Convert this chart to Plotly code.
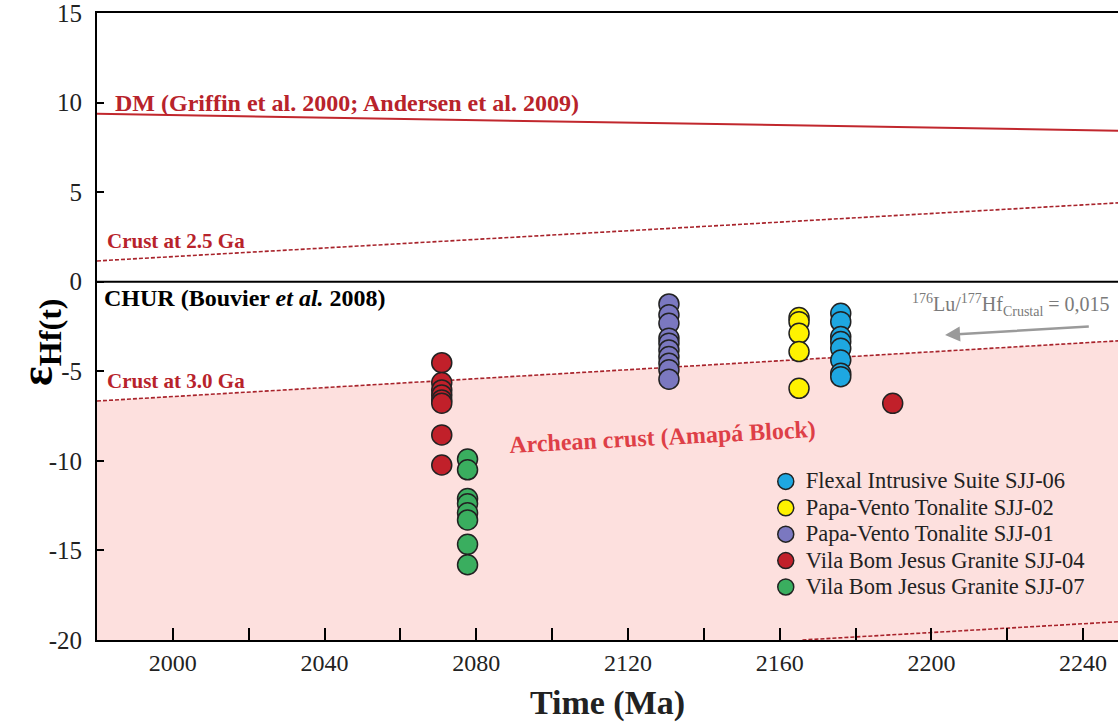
import plotly.graph_objects as go

# ---- data ----
x_range = [1980, 2249.2]

# Reference evolution lines (Time in Ma, epsilon Hf)
dm_x = [1980, 2249.2]
dm_y = [9.37, 8.43]
crust25_x = [1980, 2249.2]
crust25_y = [1.16, 4.40]
crust30_x = [1980, 2249.2]
crust30_y = [-6.66, -3.30]
crust35_x = [2166, 2249.2]
crust35_y = [-20.0, -18.98]
chur_x = [1980, 2249.2]
chur_y = [0, 0]

# Sample analyses
flexal_x = [2176.1] * 8
flexal_y = [-1.76, -2.23, -3.06, -3.34, -3.72, -4.37, -5.11, -5.30]
pv02_x = [2165.1] * 5
pv02_y = [-2.00, -2.23, -2.88, -3.90, -5.95]
pv01_x = [2130.8] * 10
pv01_y = [-1.24, -1.85, -2.32, -3.15, -3.43, -3.81, -4.18, -4.55, -4.92, -5.44]
vbj04_x = [2070.9] * 8 + [2189.8]
vbj04_y = [-4.52, -5.63, -6.04, -6.32, -6.60, -6.78, -8.55, -10.23, -6.79]
vbj07_x = [2077.7] * 8
vbj07_y = [-9.90, -10.50, -12.10, -12.40, -12.90, -13.30, -14.66, -15.80]

x_tickvals = [2000, 2020, 2040, 2060, 2080, 2100, 2120, 2140, 2160, 2180, 2200, 2220, 2240]
x_ticktext = ["2000", "", "2040", "", "2080", "", "2120", "", "2160", "", "2200", "", "2240"]
y_tickvals = [-20, -15, -10, -5, 0, 5, 10, 15]
y_ticktext = ["-20", "-15", "-10", "-5", "0", "5", "10", "15"]

SERIF = "Liberation Serif"
LINE_RED = "#b8232b"
DASH_RED = "#a8232b"

fig = go.Figure()

# Archean crust field: between y=-20 and the 3.0 Ga crust line
fig.add_trace(go.Scatter(x=crust30_x, y=[-20, -20], mode="lines",
                         line=dict(width=0), showlegend=False, hoverinfo="skip"))
fig.add_trace(go.Scatter(x=crust30_x, y=crust30_y, mode="lines", fill="tonexty",
                         fillcolor="#fde0de", line=dict(width=0),
                         showlegend=False, hoverinfo="skip"))

# Evolution lines
fig.add_trace(go.Scatter(x=dm_x, y=dm_y, mode="lines",
                         line=dict(color="#c1272d", width=2), showlegend=False))
for lx, ly in [(crust25_x, crust25_y), (crust30_x, crust30_y), (crust35_x, crust35_y)]:
    fig.add_trace(go.Scatter(x=lx, y=ly, mode="lines",
                             line=dict(color=DASH_RED, width=1.6, dash="4px,2px"),
                             showlegend=False))
fig.add_trace(go.Scatter(x=chur_x, y=chur_y, mode="lines",
                         line=dict(color="black", width=2), showlegend=False))

# Samples
samples = [
    ("Flexal Intrusive Suite SJJ-06", flexal_x, flexal_y, "#1ea7e1"),
    ("Papa-Vento Tonalite SJJ-02", pv02_x, pv02_y, "#fff200"),
    ("Papa-Vento Tonalite SJJ-01", pv01_x, pv01_y, "#7b78c0"),
    ("Vila Bom Jesus Granite SJJ-04", vbj04_x, vbj04_y, "#c1202a"),
    ("Vila Bom Jesus Granite SJJ-07", vbj07_x, vbj07_y, "#3aae5f"),
]
for name, sx, sy, col in samples:
    fig.add_trace(go.Scatter(x=sx, y=sy, mode="markers",
                             name=f'<span style="font-size:22.5px">{name}</span>',
                             marker=dict(size=20, color=col,
                                         line=dict(color="#222222", width=1.5))))

annotations = [
    dict(x=1984.1, y=9.98, xanchor="left", yanchor="middle", showarrow=False,
         text="<b>DM (Griffin et al. 2000; Andersen et al. 2009)</b>",
         font=dict(family=SERIF, size=24, color=LINE_RED)),
    dict(x=1982.0, y=2.25, xanchor="left", yanchor="middle", showarrow=False,
         text="<b>Crust at 2.5 Ga</b>",
         font=dict(family=SERIF, size=21, color=LINE_RED)),
    dict(x=1981.4, y=-0.9, xanchor="left", yanchor="middle", showarrow=False,
         text="<b>CHUR (Bouvier <i>et al.</i> 2008)</b>",
         font=dict(family=SERIF, size=24, color="black")),
    dict(x=1982.0, y=-5.55, xanchor="left", yanchor="middle", showarrow=False,
         text="<b>Crust at 3.0 Ga</b>",
         font=dict(family=SERIF, size=21, color=LINE_RED)),
    dict(x=2129.2, y=-8.65, xanchor="center", yanchor="middle", showarrow=False,
         textangle=-3, text="<b>Archean crust (Amapá Block)</b>",
         font=dict(family=SERIF, size=24, color="#de3f47")),
    dict(x=2221.0, y=-1.3, xanchor="center", yanchor="middle", showarrow=False,
         text="<sup>176</sup>Lu/<sup>177</sup>Hf<sub>Crustal</sub> = 0,015",
         font=dict(family=SERIF, size=20, color="#7a7a7a")),
    dict(x=2203.6, y=-2.97, ax=2241.9, ay=-2.5, xref="x", yref="y",
         axref="x", ayref="y", text="", showarrow=True, arrowhead=2,
         arrowsize=1.2, arrowwidth=2.5, arrowcolor="#9a9a9a"),
    dict(x=-0.056, y=0.475, xref="paper", yref="paper", showarrow=False,
         textangle=-90, xanchor="center", yanchor="middle",
         text="<b>ε<sub>Hf(t)</sub></b>",
         font=dict(family=SERIF, size=46, color="black")),
]

fig.update_layout(
    width=1118, height=722,
    margin=dict(l=97, r=0, t=13, b=82, autoexpand=False),
    paper_bgcolor="white", plot_bgcolor="white",
    font=dict(family=SERIF, color="#222222"),
    annotations=annotations,
    legend=dict(x=0.655, y=0.282, xanchor="left", yanchor="top",
                traceorder="normal",
                bgcolor="rgba(0,0,0,0)", font=dict(family=SERIF, size=18, color="#222222"),
                tracegroupgap=0, itemsizing="trace"),
    xaxis=dict(range=x_range, tickvals=x_tickvals, ticktext=x_ticktext,
               ticks="inside", ticklen=12, tickwidth=1.5, tickcolor="black",
               showgrid=False, zeroline=False, ticklabeloverflow="allow",
               automargin=False,
               showline=True, linecolor="black", linewidth=2, mirror=True,
               tickfont=dict(family=SERIF, size=24, color="#222222"),
               title=dict(text="<b>Time (Ma)</b>", standoff=16,
                          font=dict(family=SERIF, size=34, color="#222222"))),
    yaxis=dict(range=[-20, 15], tickvals=y_tickvals, ticktext=y_ticktext,
               ticks="inside", ticklen=7, tickwidth=1.5, tickcolor="black",
               showgrid=False, zeroline=False, ticklabeloverflow="allow",
               automargin=False,
               showline=True, linecolor="black", linewidth=2, mirror=False,
               ticklabelstandoff=8,
               tickfont=dict(family=SERIF, size=25, color="#222222")),
)

fig.write_html("out.html")
